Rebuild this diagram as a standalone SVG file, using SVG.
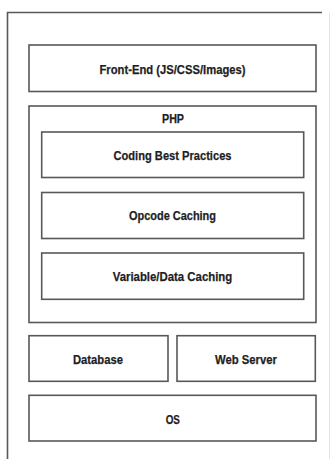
<svg xmlns="http://www.w3.org/2000/svg" width="331" height="459" viewBox="0 0 331 459">
<style>
.box{fill:#fff;stroke:#585858;stroke-width:1.6}
.lbl{font-family:"Liberation Sans Narrow","Liberation Sans",Arial,sans-serif;font-weight:bold;font-size:13.5px;fill:#1e1e1e;text-anchor:middle;stroke:#1e1e1e;stroke-width:0.25}
</style>
<rect width="331" height="459" fill="#fff"/>
<g id="frame">
<path d="M7.5,460 V12.5 H322" fill="none" stroke="#585858" stroke-width="1.6"/>
<path d="M329.5,12.5 V459" fill="none" stroke="#e4e4e4" stroke-width="1"/>
</g>
<g id="frontend">
<rect class="box" x="29" y="45" width="287" height="46.5"/>
<text class="lbl" x="172.5" y="73.5" textLength="146" lengthAdjust="spacingAndGlyphs">Front-End (JS/CSS/Images)</text>
</g>
<g id="php">
<rect class="box" x="29" y="106" width="287" height="216.5"/>
<text class="lbl" x="173" y="122.5" textLength="22" lengthAdjust="spacingAndGlyphs">PHP</text>
</g>
<g id="coding">
<rect class="box" x="41.7" y="132" width="262" height="45.5"/>
<text class="lbl" x="172.5" y="160" textLength="118" lengthAdjust="spacingAndGlyphs">Coding Best Practices</text>
</g>
<g id="opcode">
<rect class="box" x="41.7" y="192.5" width="262" height="46"/>
<text class="lbl" x="172.5" y="220" textLength="87" lengthAdjust="spacingAndGlyphs">Opcode Caching</text>
</g>
<g id="variable">
<rect class="box" x="41.7" y="253" width="262" height="46.3"/>
<text class="lbl" x="172.5" y="280.5" textLength="119.6" lengthAdjust="spacingAndGlyphs">Variable/Data Caching</text>
</g>
<g id="database">
<rect class="box" x="29" y="335.7" width="139" height="45.6"/>
<text class="lbl" x="98" y="364" textLength="50" lengthAdjust="spacingAndGlyphs">Database</text>
</g>
<g id="webserver">
<rect class="box" x="177" y="335.7" width="138.3" height="45.6"/>
<text class="lbl" x="246" y="364" textLength="62" lengthAdjust="spacingAndGlyphs">Web Server</text>
</g>
<g id="os">
<rect class="box" x="29" y="395.3" width="287" height="45.7"/>
<text class="lbl" x="172.8" y="423.5" textLength="14.3" lengthAdjust="spacingAndGlyphs">OS</text>
</g>
<g id="connectors"></g>
</svg>
